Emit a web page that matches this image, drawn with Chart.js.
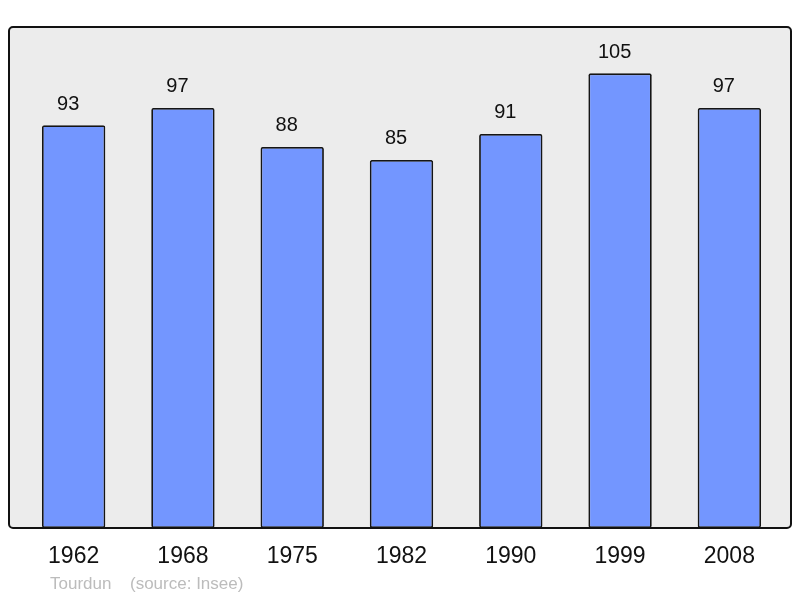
<!DOCTYPE html>
<html><head><meta charset="utf-8">
<script src="https://cdn.jsdelivr.net/npm/chart.js@4/dist/chart.umd.min.js"></script>
<style>html,body{margin:0;padding:0;background:#fff}#wrap{width:800px;height:598px}</style>
</head><body><div id="wrap"><canvas id="c" width="800" height="598"></canvas></div>
<script>
const categories = ["1962","1968","1975","1982","1990","1999","2008"];
const population = [93,97,88,85,91,105,97];
const footerName = "Tourdun";
const footerSource = "(source: Insee)";

const framePlugin = {
  id:'frame',
  beforeDraw(chart){
    const {ctx, chartArea:a} = chart;
    const x0=a.left-10, x1=a.right+7, y0=a.top, y1=a.bottom;
    ctx.save();
    ctx.beginPath();
    ctx.roundRect(x0,y0,x1-x0,y1-y0,4);
    ctx.fillStyle='#ececec';
    ctx.fill();
    ctx.restore();
  },
  afterDatasetsDraw(chart){
    const {ctx, chartArea:a} = chart;
    const x0=a.left-10, x1=a.right+7, y0=a.top, y1=a.bottom;
    ctx.save();
    ctx.beginPath();
    ctx.roundRect(x0,y0,x1-x0,y1-y0,4);
    ctx.lineWidth=2;
    ctx.strokeStyle='#111';
    ctx.stroke();
    const meta = chart.getDatasetMeta(0);
    ctx.fillStyle='#111';
    ctx.font='20px "Liberation Sans", Arial, sans-serif';
    ctx.textAlign='center';
    ctx.textBaseline='middle';
    meta.data.forEach((bar,i)=>{
      ctx.fillText(String(chart.data.datasets[0].data[i]), bar.x-5.5, bar.y-21);
    });
    ctx.fillStyle='#bcbcbc';
    ctx.font='17px "Liberation Sans", Arial, sans-serif';
    ctx.textAlign='left';
    ctx.fillText(footerName, 50, 584);
    ctx.fillText(footerSource, 130, 584);
    ctx.restore();
  }
};

new Chart(document.getElementById('c'), {
  type:'bar',
  data:{labels:categories, datasets:[{data:population, backgroundColor:'#7396ff', borderColor:'#151515', borderWidth:1.8, borderSkipped:false, borderRadius:2, barPercentage:0.58, categoryPercentage:1}]},
  options:{
    responsive:false, animation:false,
    layout:{padding:{left:19, right:16, top:27, bottom:0}},
    plugins:{legend:{display:false}, tooltip:{enabled:false}},
    scales:{
      y:{display:false, min:0, max:115.7},
      x:{
        grid:{display:false, drawTicks:false}, border:{display:false},
        ticks:{color:'#111', font:{size:23, family:'"Liberation Sans", Arial, sans-serif'}, padding:15, maxRotation:0},
        afterFit(s){ s.height=70; }
      }
    }
  },
  plugins:[framePlugin]
});
</script></body></html>
